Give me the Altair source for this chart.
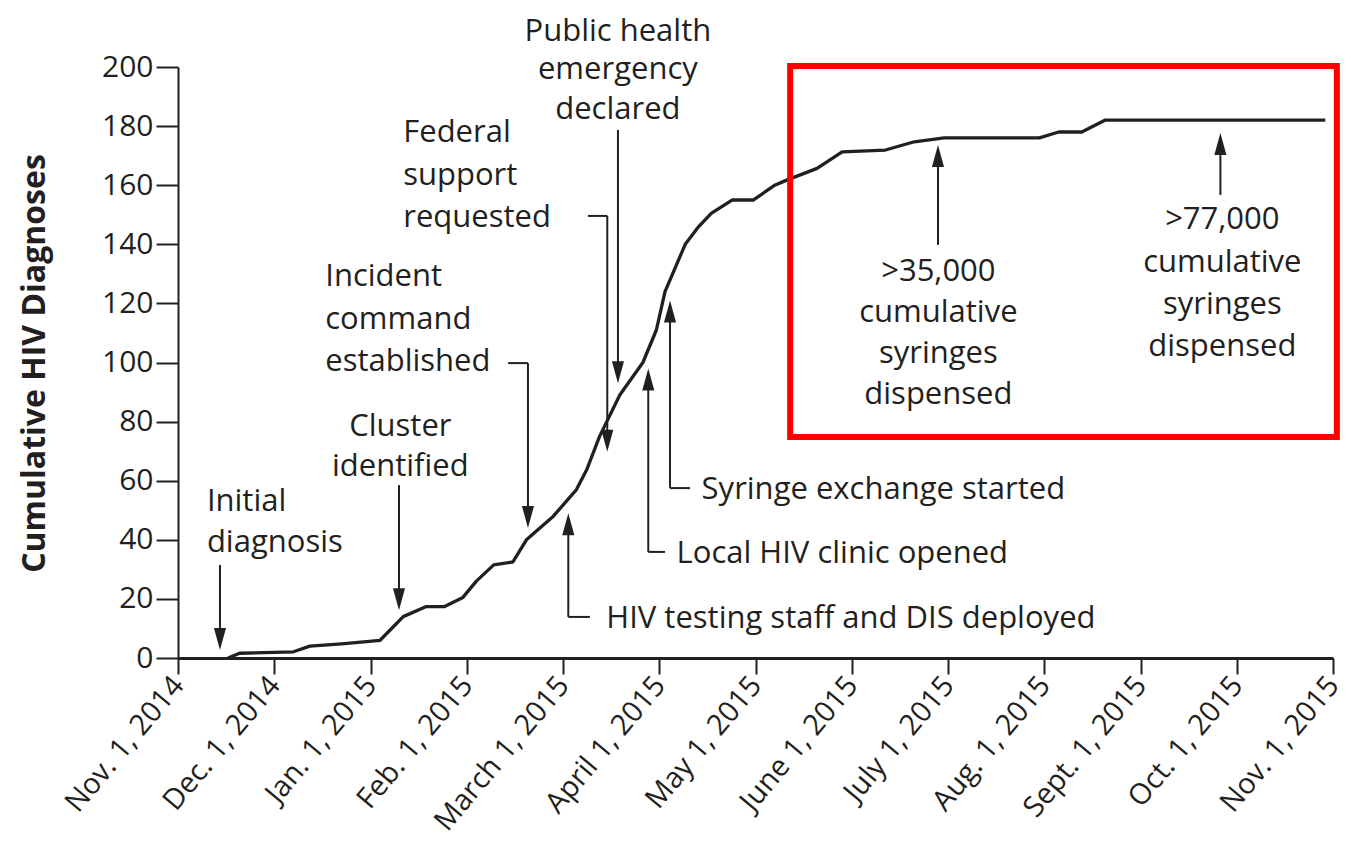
import altair as alt
import pandas as pd

# ---------------- data ----------------
tick_labels = ["Nov. 1, 2014", "Dec. 1, 2014", "Jan. 1, 2015", "Feb. 1, 2015",
               "March 1, 2015", "April 1, 2015", "May 1, 2015", "June 1, 2015",
               "July 1, 2015", "Aug. 1, 2015", "Sept. 1, 2015", "Oct. 1, 2015",
               "Nov. 1, 2015"]

# months since Nov 1, 2014 (uniform month spacing) and cumulative diagnoses
months = [0.52, 0.64, 1.2, 1.37, 1.7, 2.1, 2.34, 2.58, 2.77, 2.96, 3.1, 3.28, 3.48,
          3.62, 3.9, 4.14, 4.25, 4.38, 4.59, 4.83, 4.97, 5.06, 5.27, 5.41, 5.54,
          5.76, 5.98, 6.2, 6.33, 6.64, 6.9, 7.35, 7.65, 7.96, 8.95, 9.15, 9.39,
          9.63, 11.92]
diagnoses = [0, 1.6, 2.1, 4, 4.8, 6, 14, 17.4, 17.4, 20.5, 26, 31.5, 32.5,
             40, 48, 57, 64, 75, 89, 100, 111, 124, 140, 146, 150.5,
             155, 155, 160, 161.8, 165.7, 171.3, 171.9, 174.7, 176, 176, 178, 178,
             182, 182]

# annotation text lines
note_text = ["Initial", "diagnosis",
             "Incident", "command", "established",
             "Federal", "support", "requested",
             "HIV testing staff and DIS deployed",
             "Local HIV clinic opened",
             "Syringe exchange started",
             "Cluster", "identified",
             "Public health", "emergency", "declared",
             ">35,000", "cumulative", "syringes", "dispensed",
             ">77,000", "cumulative", "syringes", "dispensed"]
note_x = [0.30, 0.30,
          1.53, 1.53, 1.53,
          2.34, 2.34, 2.34,
          4.45, 5.18, 5.44,
          2.31, 2.31,
          4.57, 4.57, 4.57,
          7.90, 7.90, 7.90, 7.90,
          10.85, 10.85, 10.85, 10.85]
note_y = [52.8, 38.9,
          128.9, 114.4, 100.1,
          177.6, 163.1, 148.9,
          13.2, 35.2, 56.8,
          78.1, 64.6,
          212.0, 199.0, 185.4,
          130.6, 116.7, 102.9, 89.0,
          148.2, 133.6, 119.4, 105.2]
note_align = ["left"] * 11 + ["center"] * 13

# arrow shafts (segments)
seg_x = [0.436, 2.296, 3.43, 3.636, 4.26, 4.46, 4.571, 4.28, 4.055, 5.06, 4.886, 5.32, 5.112, 7.896, 10.83]
seg_y = [31.5, 58.5, 99.8, 99.8, 149.6, 149.6, 178.7, 13.9, 13.9, 35.9, 35.9, 57.5, 57.5, 139.8, 156.7]
seg_x2 = [0.436, 2.296, 3.636, 3.636, 4.46, 4.46, 4.571, 4.055, 4.055, 4.886, 4.886, 5.112, 5.112, 7.896, 10.83]
seg_y2 = [5, 19, 99.8, 46, 149.6, 72, 96, 13.9, 46, 35.9, 95, 57.5, 118, 171, 175]

# arrow heads (tip positions)
head_x = [0.436, 2.296, 3.636, 4.46, 4.571, 4.055, 4.886, 5.112, 7.896, 10.83]
head_y = [2.7, 16.2, 44.0, 69.8, 93.0, 49.0, 98.0, 121.0, 173.6, 177.7]
head_dir = ["down", "down", "down", "down", "down", "up", "up", "up", "up", "up"]

# highlighted box
box_x = [6.36, 12.04]
box_y = [74.8, 200.3]

# ---------------- chart ----------------
FONT = "Open Sans"
INK = "#231f20"

xscale = alt.Scale(domain=[0, 12], nice=False, zero=False)
yscale = alt.Scale(domain=[0, 200], nice=False)

label_expr = "[" + ",".join("'" + t + "'" for t in tick_labels) + "][datum.value]"
x_axis = alt.Axis(values=list(range(13)), labelExpr=label_expr, title=None,
                  labelAngle=-50, labelAlign="right", labelBaseline="middle",
                  labelFontSize=29, labelPadding=6, tickSize=16, tickWidth=2,
                  domainWidth=3, grid=False, labelFont=FONT, labelColor=INK,
                  domainColor=INK, tickColor=INK, labelOverlap=False, labelBound=False,
                  labelLimit=500)
y_axis = alt.Axis(values=list(range(0, 201, 20)), tickSize=22, tickWidth=2,
                  domainWidth=2, grid=False, labelFontSize=30, labelPadding=3,
                  labelFont=FONT, labelColor=INK, domainColor=INK, tickColor=INK,
                  title="Cumulative HIV Diagnoses", titleFont=FONT,
                  titleFontSize=32, titleFontWeight="bold", titleColor=INK,
                  titleX=-144, titleY=296, titleAngle=270,
                  titleAlign="center", titleBaseline="middle", titleLimit=800)


def X(field):
    return alt.X(field, scale=xscale, axis=x_axis, title=None)


def Y(field):
    return alt.Y(field, scale=yscale, axis=y_axis, title="Cumulative HIV Diagnoses")


line_df = pd.DataFrame({"month": months, "diagnoses": diagnoses})
line = alt.Chart(line_df).mark_line(color=INK, strokeWidth=3.3, strokeJoin="round").encode(
    x=X("month:Q"), y=Y("diagnoses:Q"))

notes_df = pd.DataFrame({"text": note_text, "x": note_x, "y": note_y, "align": note_align})
left_notes = alt.Chart(notes_df[notes_df["align"] == "left"]).mark_text(
    align="left", baseline="middle", font=FONT, fontSize=31, color=INK
).encode(x=X("x:Q"), y=Y("y:Q"), text="text:N")
center_notes = alt.Chart(notes_df[notes_df["align"] == "center"]).mark_text(
    align="center", baseline="middle", font=FONT, fontSize=31, color=INK
).encode(x=X("x:Q"), y=Y("y:Q"), text="text:N")

seg_df = pd.DataFrame({"x": seg_x, "y": seg_y, "x2": seg_x2, "y2": seg_y2})
segs = alt.Chart(seg_df).mark_rule(color=INK, strokeWidth=2).encode(
    x=X("x:Q"), y=Y("y:Q"), x2="x2:Q", y2="y2:Q")

DOWN = "M0,0L-0.55,-2L0.55,-2Z"
UP = "M0,0L-0.55,2L0.55,2Z"
head_df = pd.DataFrame({"x": head_x, "y": head_y,
                        "shape": [DOWN if d == "down" else UP for d in head_dir]})
heads = alt.Chart(head_df).mark_point(filled=True, color=INK, opacity=1, size=484,
                                      strokeWidth=0).encode(
    x=X("x:Q"), y=Y("y:Q"), shape=alt.Shape("shape:N", scale=None))

box_df = pd.DataFrame({"x": [box_x[0]], "x2": [box_x[1]], "y": [box_y[0]], "y2": [box_y[1]]})
box = alt.Chart(box_df).mark_rect(fillOpacity=0, stroke="#ff0000", strokeWidth=6).encode(
    x=X("x:Q"), x2="x2:Q", y=Y("y:Q"), y2="y2:Q")

chart = alt.layer(line, segs, heads, left_notes, center_notes, box).properties(
    width=1155, height=591,
    background="white",
    autosize=alt.AutoSizeParams(type="none"),
    padding={"left": 170, "top": 59, "right": 21, "bottom": 180},
).configure_view(stroke=None)

chart.save("out.html", embed_options={"renderer": "svg", "actions": False})
